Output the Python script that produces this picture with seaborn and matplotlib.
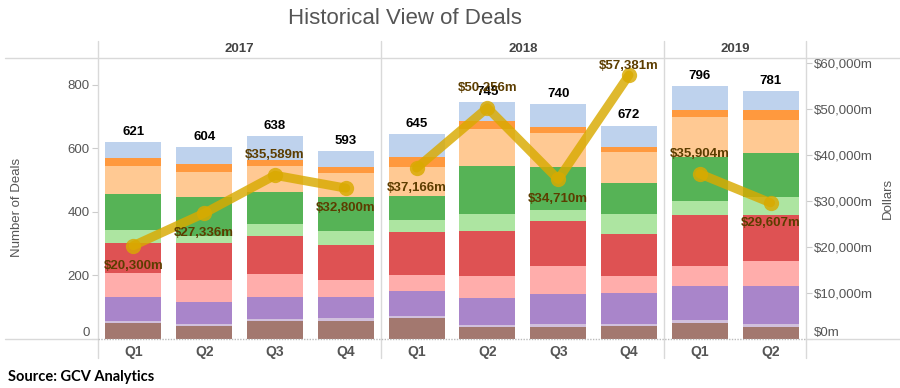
import numpy as np
import pandas as pd
import seaborn as sns
import matplotlib.pyplot as plt
from matplotlib.lines import Line2D
from matplotlib.ticker import FuncFormatter
from matplotlib.colors import to_rgb

# ---- data ----
years = ["2017", "2017", "2017", "2017", "2018", "2018", "2018", "2018", "2019", "2019"]
quarters = ["Q1", "Q2", "Q3", "Q4", "Q1", "Q2", "Q3", "Q4", "Q1", "Q2"]
total_deals = [621, 604, 638, 593, 645, 745, 740, 672, 796, 781]
dollars_m = [20300, 27336, 35589, 32800, 37166, 50256, 34710, 57381, 35904, 29607]

# stacked segments, bottom to top
seg_brown = [49, 40, 58, 58, 65, 38, 39, 41, 51, 39]
seg_light_purple = [9, 6, 5, 9, 6, 6, 7, 5, 9, 9]
seg_purple = [73, 69, 68, 64, 81, 85, 95, 98, 108, 120]
seg_pink = [77, 70, 75, 56, 51, 70, 90, 55, 61, 77]
seg_red = [94, 117, 117, 110, 133, 142, 140, 133, 163, 147]
seg_light_green = [41, 22, 40, 43, 40, 53, 36, 62, 44, 54]
seg_green = [113, 123, 101, 108, 73, 152, 134, 96, 136, 139]
seg_light_orange = [90, 80, 80, 74, 92, 116, 109, 98, 128, 106]
seg_orange = [24, 24, 21, 19, 33, 24, 19, 18, 22, 29]
seg_light_blue = [51, 53, 73, 52, 71, 59, 71, 66, 74, 61]

segments = [seg_brown, seg_light_purple, seg_purple, seg_pink, seg_red,
            seg_light_green, seg_green, seg_light_orange, seg_orange, seg_light_blue]
seg_colors = ["#8c564b", "#c5b0d5", "#9467bd", "#ff9896", "#d62728",
              "#98df8a", "#2ca02c", "#ffbb78", "#ff7f0e", "#aec7e8"]


def blend(c, a=0.8):
    r, g, b = to_rgb(c)
    return (a * r + 1 - a, a * g + 1 - a, a * b + 1 - a)


periods = [f"{y} {q}" for y, q in zip(years, quarters)]
rows = []
for k, seg in enumerate(segments):
    for p, v in zip(periods, seg):
        rows.append({"period": p, "segment": k, "count": v})
df = pd.DataFrame(rows)
df["cum"] = df.groupby("period")["count"].cumsum()

# ---- figure ----
sns.set_theme(style="white")
plt.rcParams["font.family"] = ["Liberation Sans", "DejaVu Sans"]

W, H = 900, 388
fig = plt.figure(figsize=(9, 3.88), dpi=100)
x0, x1, yb, yt = 98, 806, 339, 58
ax = fig.add_axes([x0 / W, 1 - yb / H, (x1 - x0) / W, (yb - yt) / H])

# draw cumulative bars top-down so each covers the ones above it
for k in reversed(range(len(segments))):
    sub = df[df["segment"] == k]
    sns.barplot(data=sub, x="period", y="cum", order=periods, color=blend(seg_colors[k]),
                saturation=1, width=0.79, linewidth=0, errorbar=None, ax=ax, zorder=2)

ax.set_xlim(-0.5, len(periods) - 0.5)
ax.set_ylim(0, 885)
ax.set_yticks([0, 200, 400, 600, 800])
ax.set_xticks(range(len(periods)))
ax.set_xticklabels(quarters, fontweight="bold", color="#555555", fontsize=10)
ax.set_xlabel("")
ax.set_ylabel("")
ax.tick_params(axis="x", length=0, pad=4)
ax.tick_params(axis="y", length=4, width=0.8, color="#cccccc", labelsize=9.5,
               labelcolor="#555555", left=True, pad=2)
for s in ax.spines.values():
    s.set_visible(False)

for i, t in enumerate(total_deals):
    ax.annotate(str(t), (i, t), xytext=(0, 3), textcoords="offset points",
                ha="center", va="bottom", fontsize=9.5, fontweight="bold", color="black")

# dollars line on the right axis, broken by year
ax2 = ax.twinx()
ax2.set_ylim(0, 61087)
ax2.set_yticks(range(0, 60001, 10000))
ax2.yaxis.set_major_formatter(FuncFormatter(lambda v, p: f"${v:,.0f}m"))
ax2.tick_params(axis="y", length=4, width=0.8, color="#cccccc", labelsize=9.5,
                labelcolor="#555555", right=True, pad=2)
for s in ax2.spines.values():
    s.set_visible(False)

xs = np.arange(len(periods))
line_df = pd.DataFrame({"x": xs, "dollars": dollars_m, "year": years})
for y in ["2017", "2018", "2019"]:
    sub = line_df[line_df["year"] == y]
    sns.lineplot(data=sub, x="x", y="dollars", color="#d9aa00", alpha=0.82,
                 linewidth=6.5, marker="o", markersize=11, markeredgewidth=0,
                 solid_capstyle="round", ax=ax2)
ax2.set_ylabel("")
ax2.set_xlabel("")

# zero labels sit just above the baseline, as in the reference
ax.get_yticklabels()[0].set_verticalalignment("bottom")
ax2.get_yticklabels()[0].set_verticalalignment("bottom")

above = [False, False, True, False, False, True, False, True, True, False]
for i, (v, up) in enumerate(zip(dollars_m, above)):
    off = 14.5 if up else -14.5
    if i == 7:
        off = 6.5
    ax2.annotate(f"${v:,}m", (i, v), xytext=(0, off), textcoords="offset points",
                 ha="center", va="center", fontsize=9.5, fontweight="bold",
                 color="#5c3d00", zorder=10)

# frame lines (Tableau-style panes)
lc = "#d9d9d9"
def pix_line(xa, ya, xb, yb_, lw=1.0, color=lc, ls="-"):
    fig.add_artist(Line2D([xa / W, xb / W], [1 - ya / H, 1 - yb_ / H],
                          color=color, lw=lw, ls=ls, transform=fig.transFigure))

slot = (x1 - x0) / len(periods)
sep_x = [x0, x0 + 4 * slot, x0 + 8 * slot, x1]
for sx in sep_x:
    pix_line(sx, 41, sx, 358)
pix_line(5, yt, 900, yt)
pix_line(5, yb, x0, yb)
pix_line(x1, yb, 900, yb)
pix_line(x0, yb, x1, yb, color="#bbbbbb", ls=(0, (1, 1)))

# header years and axis titles
for label, c in [("2017", (sep_x[0] + sep_x[1]) / 2), ("2018", (sep_x[1] + sep_x[2]) / 2),
                 ("2019", (sep_x[2] + sep_x[3]) / 2)]:
    fig.text(c / W, 1 - 49 / H, label, ha="center", va="center", fontsize=9.5,
             fontweight="bold", color="#444444")

fig.text(405 / W, 1 - 18 / H, "Historical View of Deals", ha="center", va="center",
         fontsize=16, color="#555555")
fig.text(17 / W, 1 - 207 / H, "Number of Deals", rotation=90, ha="center", va="center",
         fontsize=9.5, color="#555555")
fig.text(888 / W, 1 - 198 / H, "Dollars", rotation=90, ha="center", va="center",
         fontsize=9.5, color="#555555")
fig.text(8 / W, 1 - 377 / H, "Source: GCV Analytics", ha="left", va="center",
         fontsize=10.5, fontweight="bold", color="black", family=["Lato", "DejaVu Sans"])

fig.savefig("out.png", dpi=100)
